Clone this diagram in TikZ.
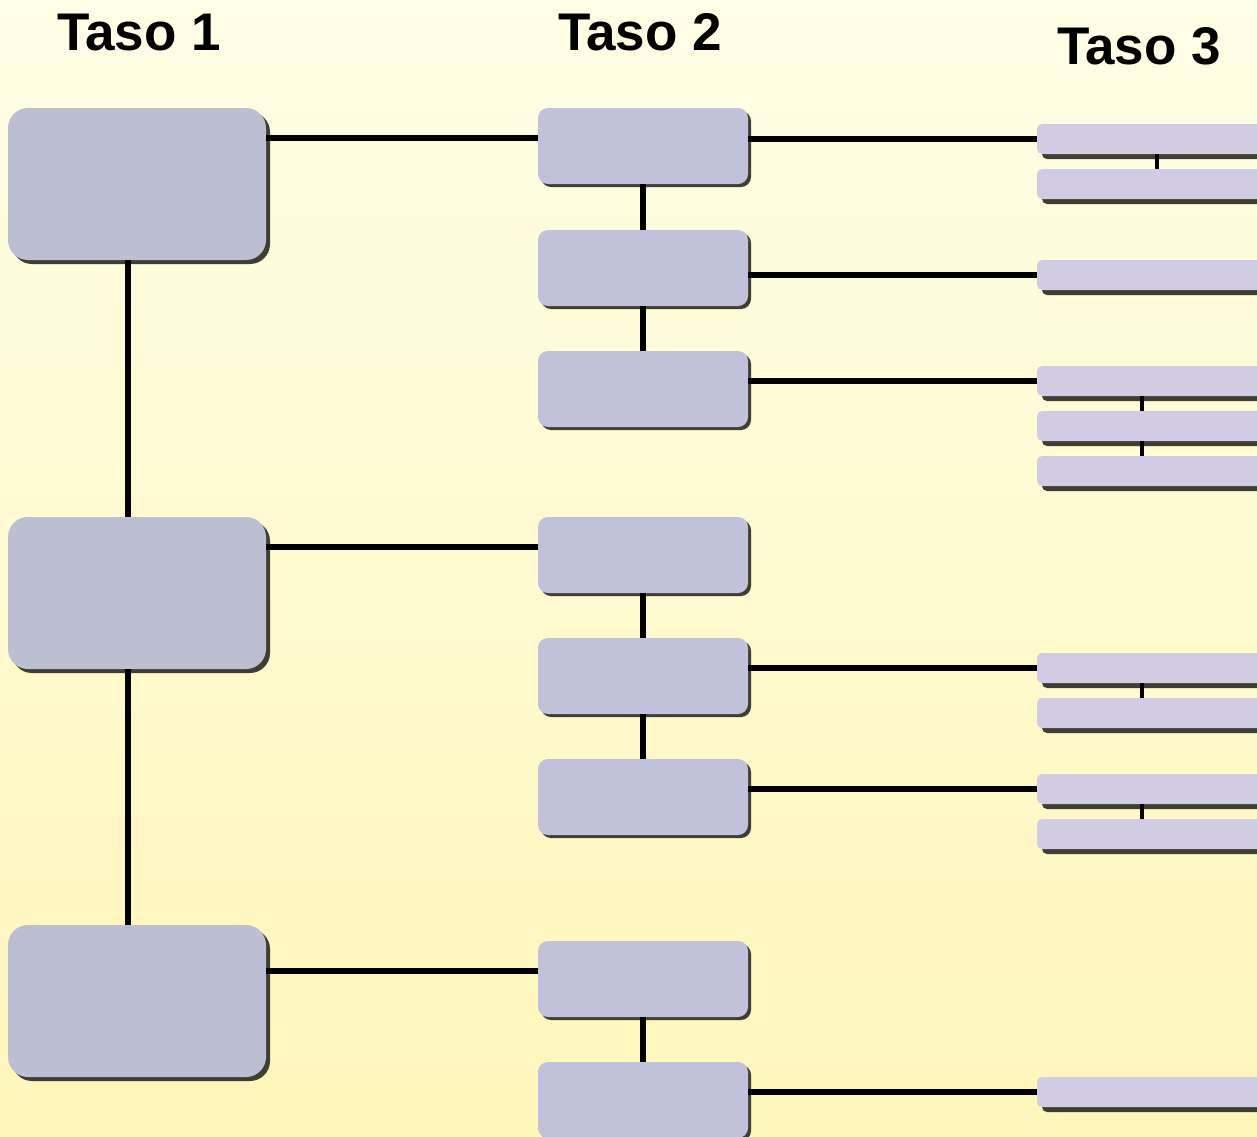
\documentclass[tikz,border=0pt]{standalone}
\usepackage{fontspec}
\setmainfont{Liberation Sans}
\usetikzlibrary{shadows}
\definecolor{bgtop}{HTML}{FFFEE6}
\definecolor{bgbot}{HTML}{FFF6BA}
\definecolor{boxa}{HTML}{BCBFD2}
\definecolor{boxb}{HTML}{C1C1DC}
\definecolor{boxc}{HTML}{D1CCE3}
\definecolor{shad}{HTML}{403E33}
\tikzset{
  lvlone/.style={anchor=north west, inner sep=0pt, outer sep=0pt, minimum width=258pt, minimum height=152pt,
    rounded corners=20pt, fill=boxa, drop shadow={shadow xshift=4pt, shadow yshift=-4pt, fill=shad, opacity=1}},
  lvltwo/.style={anchor=north west, inner sep=0pt, outer sep=0pt, minimum width=210pt, minimum height=76pt,
    rounded corners=10pt, fill=boxb, drop shadow={shadow xshift=3pt, shadow yshift=-3pt, fill=shad, opacity=1}},
  lvlthree/.style={anchor=north west, inner sep=0pt, outer sep=0pt, minimum width=240pt, minimum height=30pt,
    rounded corners=5pt, fill=boxc, drop shadow={shadow xshift=5pt, shadow yshift=-5pt, fill=shad, opacity=1}},
  conn/.style={line width=5.5pt, black},
  thin conn/.style={line width=4pt, black},
  title/.style={anchor=base, font=\bfseries\fontsize{53}{62}\selectfont}
}
\begin{document}
\begin{tikzpicture}[x=1pt,y=-1pt]
\clip (0,0) rectangle (1257,1136);
\shade[top color=bgtop, bottom color=bgbot] (0,0) rectangle (1257,1136);

\node[title] (h1) at (139,50) {Taso 1};
\node[title] (h2) at (640,50) {Taso 2};
\node[title] (h3) at (1139,64) {Taso 3};

\coordinate (x1) at (128,0);
\coordinate (x3) at (1142,0);
\coordinate (x3a) at (1157,0);

% Level 1 boxes
\node[lvlone] (a1) at (8,108) {};
\node[lvlone] (a2) at (8,517) {};
\node[lvlone] (a3) at (8,925) {};

% Level 2 boxes
\node[lvltwo] (b1) at (538,108) {};
\node[lvltwo] (b2) at (538,230) {};
\node[lvltwo] (b3) at (538,351) {};
\node[lvltwo] (b4) at (538,517) {};
\node[lvltwo] (b5) at (538,638) {};
\node[lvltwo] (b6) at (538,759) {};
\node[lvltwo] (b7) at (538,941) {};
\node[lvltwo] (b8) at (538,1062) {};

% Level 3 boxes
\node[lvlthree] (c1) at (1037,124) {};
\node[lvlthree] (c2) at (1037,169) {};
\node[lvlthree] (c3) at (1037,260) {};
\node[lvlthree] (c4) at (1037,366) {};
\node[lvlthree] (c5) at (1037,411) {};
\node[lvlthree] (c6) at (1037,456) {};
\node[lvlthree] (c7) at (1037,653) {};
\node[lvlthree] (c8) at (1037,698) {};
\node[lvlthree] (c9) at (1037,774) {};
\node[lvlthree] (c10) at (1037,819) {};
\node[lvlthree] (c11) at (1037,1077) {};

% level 1 vertical
\draw[conn] (a1.south -| x1) -- (a2.north -| x1);
\draw[conn] (a2.south -| x1) -- (a3.north -| x1);
% level 1 -> level 2
\draw[conn] ([yshift=8pt]b1.west) -- ([yshift=8pt]b1.west -| a1.east);
\draw[conn] ([yshift=8pt]b4.west) -- ([yshift=8pt]b4.west -| a2.east);
\draw[conn] ([yshift=8pt]b7.west) -- ([yshift=8pt]b7.west -| a3.east);
% level 2 vertical
\draw[conn] (b1.south) -- (b2.north);
\draw[conn] (b2.south) -- (b3.north);
\draw[conn] (b4.south) -- (b5.north);
\draw[conn] (b5.south) -- (b6.north);
\draw[conn] (b7.south) -- (b8.north);
% level 2 -> level 3
\draw[conn] (c1.west) -- (c1.west -| b1.east);
\draw[conn] (c3.west) -- (c3.west -| b2.east);
\draw[conn] (c4.west) -- (c4.west -| b3.east);
\draw[conn] (c7.west) -- (c7.west -| b5.east);
\draw[conn] (c9.west) -- (c9.west -| b6.east);
\draw[conn] (c11.west) -- (c11.west -| b8.east);
% level 3 vertical
\draw[thin conn] (c1.south -| x3a) -- (c2.north -| x3a);
\draw[thin conn] (c4.south -| x3) -- (c5.north -| x3);
\draw[thin conn] (c5.south -| x3) -- (c6.north -| x3);
\draw[thin conn] (c7.south -| x3) -- (c8.north -| x3);
\draw[thin conn] (c9.south -| x3) -- (c10.north -| x3);
\end{tikzpicture}
\end{document}
